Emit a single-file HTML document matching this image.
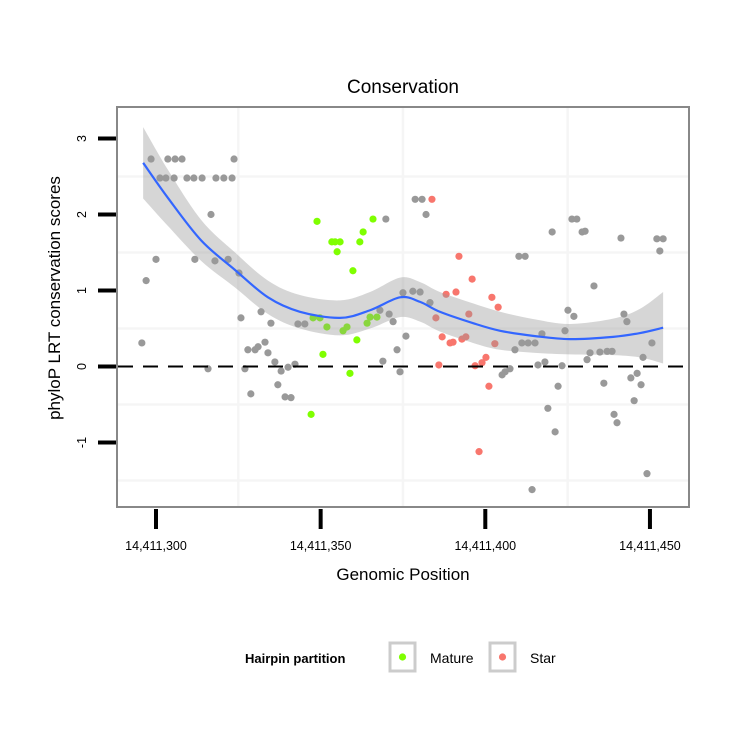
<!DOCTYPE html>
<html><head><meta charset="utf-8"><style>
html,body{margin:0;padding:0;background:#fff}
svg{display:block;font-family:"Liberation Sans",sans-serif}
</style></head><body>
<svg id="chart" width="750" height="750" viewBox="0 0 750 750"></svg>
<script>
const base = 14411300;
const grayPos = [-4.3,-3.0,-1.5,3.6,5.8,7.9,23.7,1.2,3.0,5.5,9.4,11.5,14.0,18.2,20.6,23.1,16.7,0,11.8,17.9,21.9,25.2,25.8,31.9,34.9,43.1,45.2,27.9,30.1,31.0,33.1,34.0,36.1,38.0,40.1,42.2,37.0,28.8,39.2,41.0,15.8,27.0,78.7,80.8,82.0,69.8,75.0,78.0,80.2,68.0,70.8,72.0,83.2,75.9,73.2,68.9,74.1,126.3,127.8,129.4,130.3,120.3,141.2,152.1,154.0,153.0,110.2,112.1,133.0,125.1,126.9,142.1,143.0,124.2,117.2,111.1,113.0,115.1,109.0,150.6,147.9,131.8,134.8,137.0,138.5,130.9,118.1,116.0,123.3,107.5,106.0,105.1,146.1,144.2,147.3,136.0,122.1,145.2,119.0,139.1,140.0,121.2,149.1,114.2];
const grayScore = [0.31,1.13,2.73,2.73,2.73,2.73,2.73,2.48,2.48,2.48,2.48,2.48,2.48,2.48,2.48,2.48,2.0,1.41,1.41,1.39,1.41,1.23,0.64,0.72,0.57,0.56,0.56,0.22,0.22,0.26,0.32,0.18,0.06,-0.06,-0.01,0.03,-0.24,-0.36,-0.40,-0.41,-0.03,-0.03,2.20,2.20,2.0,1.94,0.97,0.99,0.98,0.74,0.69,0.59,0.84,0.40,0.22,0.07,-0.07,1.94,1.94,1.77,1.78,1.77,1.69,1.68,1.68,1.52,1.45,1.45,1.06,0.74,0.66,0.69,0.59,0.47,0.43,0.31,0.31,0.31,0.22,0.31,0.12,0.18,0.19,0.20,0.20,0.09,0.06,0.02,0.01,-0.03,-0.07,-0.11,-0.09,-0.15,-0.24,-0.22,-0.26,-0.45,-0.55,-0.63,-0.74,-0.86,-1.41,-1.62];
const maturePos = [48.9,65.9,62.9,53.4,54.4,55.9,61.9,55.0,59.8,47.7,49.8,51.9,58.0,56.8,64.1,65.0,67.1,61.0,50.7,58.9,47.1];
const matureScore = [1.91,1.94,1.77,1.64,1.64,1.64,1.64,1.51,1.26,0.64,0.64,0.52,0.52,0.47,0.57,0.65,0.65,0.35,0.16,-0.09,-0.63];
const starPos = [83.8,92.0,96.0,88.1,91.1,102.0,103.9,85.0,95.0,86.9,89.3,90.2,92.9,94.1,102.9,85.9,96.9,99.0,100.2,101.1,98.1];
const starScore = [2.20,1.45,1.15,0.95,0.98,0.91,0.78,0.64,0.69,0.39,0.31,0.32,0.36,0.39,0.30,0.02,0.01,0.05,0.12,-0.26,-1.12];
const smoothPos = [-3.9,3.6,13.7,24.0,34.0,43.7,55.9,65.0,74.1,80.2,86.2,96.3,104.5,115.1,125.7,138.8,147.0,154.0];
const smoothFit = [2.68,2.22,1.66,1.27,0.91,0.72,0.64,0.74,0.91,0.85,0.72,0.57,0.47,0.40,0.36,0.39,0.44,0.51];
const smoothSe = [0.47,0.37,0.27,0.23,0.22,0.22,0.23,0.24,0.26,0.26,0.26,0.26,0.25,0.22,0.20,0.24,0.32,0.47];
const xTicks = [14411300,14411350,14411400,14411450];
const xTickLabels = ["14,411,300","14,411,350","14,411,400","14,411,450"];
const yTicks = [-1,0,1,2,3];

const NS = "http://www.w3.org/2000/svg";
const svg = document.getElementById('chart');
const L=117, R=689, T=107, B=507;
function xs(v){ return 156 + (v - 14411300) * 3.293; }
function ys(v){ return 366.5 - v * 76; }
function el(tag, attrs, parent){ const e=document.createElementNS(NS,tag); for(const k in attrs) e.setAttribute(k,attrs[k]); (parent||svg).appendChild(e); return e; }
function spline(pts, move){
  let d = (move ? 'M' : 'L') + pts[0][0] + ',' + pts[0][1];
  for (let i=0;i<pts.length-1;i++){
    const p0=pts[Math.max(0,i-1)], p1=pts[i], p2=pts[i+1], p3=pts[Math.min(pts.length-1,i+2)];
    const c1x=p1[0]+(p2[0]-p0[0])/6, c1y=p1[1]+(p2[1]-p0[1])/6;
    const c2x=p2[0]-(p3[0]-p1[0])/6, c2y=p2[1]-(p3[1]-p1[1])/6;
    d += ` C${c1x},${c1y} ${c2x},${c2y} ${p2[0]},${p2[1]}`;
  }
  return d;
}

for (const g of [14411325,14411375,14411425]) {
  const l = el('line',{x1:xs(g),x2:xs(g),y1:T,y2:B,stroke:'#f5f5f5','stroke-width':2.5});
  
  
}
for (const g of [-1.5,-0.5,0.5,1.5,2.5]) {
  const l = el('line',{x1:L,x2:R,y1:ys(g),y2:ys(g),stroke:'#f5f5f5','stroke-width':2.5});
  
  
}
function drawPts(P,S,color,name){
  for (let i=0;i<P.length;i++){
    const c = el('circle',{cx:xs(base+P[i]),cy:ys(S[i]),r:3.6,fill:color});
    
    
  }
}
drawPts(grayPos,grayScore,'#999999','point-other');
drawPts(maturePos,matureScore,'#7FFF00','point-mature');
drawPts(starPos,starScore,'#F8766D','point-star');

const upPts = smoothPos.map((p,i)=>[xs(base+p),ys(smoothFit[i]+smoothSe[i])]);
const loPts = smoothPos.map((p,i)=>[xs(base+p),ys(smoothFit[i]-smoothSe[i])]).reverse();
const band = el('path',{d:spline(upPts,true)+' '+spline(loPts,false)+' Z',fill:'rgba(153,153,153,0.4)',stroke:'none'});


const zl = el('line',{x1:L+1,x2:R-1,y1:ys(0),y2:ys(0),stroke:'#000','stroke-width':2,'stroke-dasharray':'15 10'});


const fitPts = smoothPos.map((p,i)=>[xs(base+p),ys(smoothFit[i])]);
const sl = el('path',{d:spline(fitPts,true),fill:'none',stroke:'#3366FF','stroke-width':2.2});


const bd = el('rect',{x:L,y:T,width:R-L,height:B-T,fill:'none',stroke:'#888','stroke-width':2});


xTicks.forEach((t,i)=>{
  const tk = el('line',{x1:xs(t),x2:xs(t),y1:B+2,y2:B+22,stroke:'#000','stroke-width':4});
  
  
  const tx = el('text',{x:xs(t),y:550,'text-anchor':'middle','font-size':12.5,fill:'#000'});
  tx.textContent = xTickLabels[i];
  
  
});
yTicks.forEach(t=>{
  const tk = el('line',{x1:98,x2:L-1,y1:ys(t),y2:ys(t),stroke:'#000','stroke-width':4});
  
  
  const y=ys(t);
  const tx = el('text',{x:0,y:0,'text-anchor':'middle','font-size':12.5,fill:'#000',transform:`translate(86,${y}) rotate(-90)`});
  tx.textContent = String(t);
  
  
});
</script>
<script>
(function(){
const NS="http://www.w3.org/2000/svg", svg=document.getElementById('chart');
function t(txt,attrs,name){const e=document.createElementNS(NS,'text');for(const k in attrs)e.setAttribute(k,attrs[k]);e.textContent=txt;svg.appendChild(e);


return e;}
t('Conservation',{x:403,y:93,'text-anchor':'middle','font-size':19},'chart-title');
t('Genomic Position',{x:403,y:580,'text-anchor':'middle','font-size':17},'x-axis-title');
t('phyloP LRT conservation scores',{x:0,y:0,'text-anchor':'middle','font-size':17,transform:'translate(60,298) rotate(-90)'},'y-axis-title');
t('Hairpin partition',{x:245,y:663,'font-size':13,'font-weight':'bold'},'legend-title');
function key(x,color,label,name){
  const r=document.createElementNS(NS,'rect');
  r.setAttribute('x',x);r.setAttribute('y',643);r.setAttribute('width',25);r.setAttribute('height',28);
  r.setAttribute('fill','#fff');r.setAttribute('stroke','#ccc');r.setAttribute('stroke-width',3);
  svg.appendChild(r);
  
  
  const c=document.createElementNS(NS,'circle');
  c.setAttribute('cx',x+12.5);c.setAttribute('cy',657);c.setAttribute('r',3.6);c.setAttribute('fill',color);
  svg.appendChild(c);
  
  
  t(label,{x:x+40,y:663,'font-size':14},name+'-label');
}
key(390,'#7FFF00','Mature','legend-mature');
key(490,'#F8766D','Star','legend-star');
})();
</script>
</body></html>
